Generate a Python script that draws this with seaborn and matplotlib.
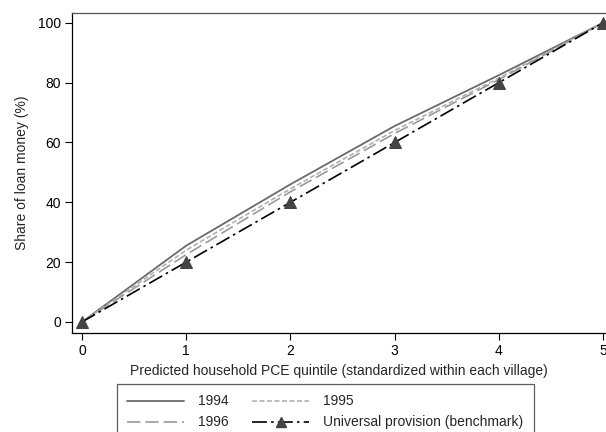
import matplotlib
matplotlib.use("Agg")
import matplotlib.pyplot as plt
import seaborn as sns
import pandas as pd
from matplotlib.lines import Line2D

quintile = [0, 1, 2, 3, 4, 5]
share_1994 = [0, 25.5, 46, 65.5, 82.5, 100]
share_1995 = [0, 24, 44.5, 64, 81.5, 100]
share_1996 = [0, 22.5, 43.5, 63, 81, 100]
share_universal = [0, 20, 40, 60, 80, 100]
yticks = [0, 20, 40, 60, 80, 100]
xticks = [0, 1, 2, 3, 4, 5]

sns.set_theme(style="ticks")
plt.rcParams['font.family'] = ['Liberation Sans', 'DejaVu Sans']
plt.rcParams['font.size'] = 9.5

fig = plt.figure(figsize=(6.06, 4.32), dpi=100)
ax = fig.add_axes([72/606, (432-333)/432, 1 - 72/606, (333-13)/432])

df = pd.DataFrame({"x": quintile, "y94": share_1994, "y95": share_1995,
                   "y96": share_1996, "yu": share_universal})

sns.lineplot(data=df, x="x", y="y94", ax=ax, color="#6a6a6a", lw=1.3)
sns.lineplot(data=df, x="x", y="y95", ax=ax, color="#b0b0b0", lw=1.2,
             linestyle=(0, (3, 1.5)))
sns.lineplot(data=df, x="x", y="y96", ax=ax, color="#9a9a9a", lw=1.2,
             linestyle=(0, (8, 3)))
sns.lineplot(data=df, x="x", y="yu", ax=ax, color="black", lw=1.2,
             linestyle=(0, (9, 2.5, 1.5, 2.5)), marker="^", markersize=8,
             markerfacecolor="#444444", markeredgecolor="#444444", clip_on=False)

ax.set_xlim(-0.096, 5.029)
ax.set_ylim(-3.7, 103.3)
ax.set_xticks(xticks)
ax.set_yticks(yticks)
ax.set_xticklabels([str(v) for v in xticks], fontsize=10)
ax.set_yticklabels([str(v) for v in yticks], fontsize=10)
ax.tick_params(axis='both', length=5, width=0.8, color='black', labelcolor='black', pad=3)
ax.set_xlabel("Predicted household PCE quintile (standardized within each village)",
              fontsize=10, labelpad=4)
ax.set_ylabel("Share of loan money (%)", fontsize=10, labelpad=6)
for s in ax.spines.values():
    s.set_color('black')
    s.set_linewidth(0.9)
ax.spines['right'].set_visible(False)
ax.spines['top'].set_color('#555555')

handles = [
    Line2D([], [], color="#6a6a6a", lw=1.3),
    Line2D([], [], color="#9a9a9a", lw=1.2, linestyle=(0, (8, 3))),
    Line2D([], [], color="#b0b0b0", lw=1.2, linestyle=(0, (3, 1.5))),
    Line2D([], [], color="black", lw=1.2, linestyle=(0, (9, 2.5, 1.5, 2.5)),
           marker="^", markersize=7, markerfacecolor="#444444", markeredgecolor="#444444"),
]
labels = ["1994", "1996", "1995", "Universal provision (benchmark)"]
leg = fig.legend(handles, labels, ncol=2, loc="upper left",
                 bbox_to_anchor=(117/606, (432-384)/432), frameon=True,
                 fontsize=10, handlelength=4.1, handletextpad=1.0,
                 columnspacing=1.7, labelspacing=0.5, borderpad=0.75,
                 fancybox=False, borderaxespad=0)
leg.get_frame().set_edgecolor("#333333")
leg.get_frame().set_linewidth(0.9)

fig.savefig("out.png", dpi=100)
